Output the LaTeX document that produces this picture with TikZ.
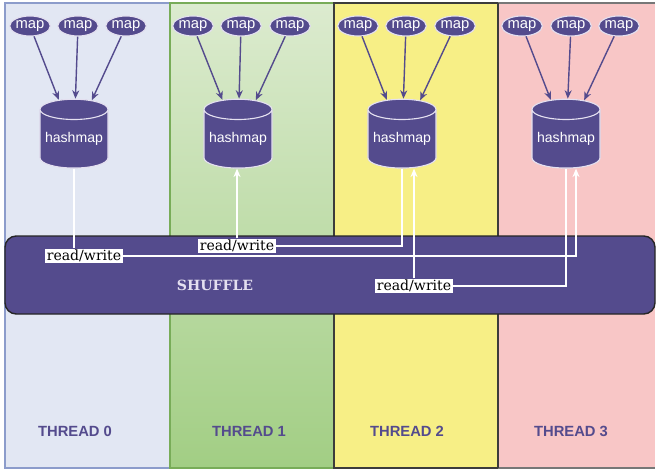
\documentclass[tikz,border=0pt]{standalone}
\usepackage{fontspec}
\setsansfont{Liberation Sans}
\newfontfamily\rwfont{DejaVu Serif}
\usetikzlibrary{positioning,shapes.geometric,arrows.meta}

\definecolor{shpurple}{HTML}{544B8D}
\definecolor{rimwhite}{HTML}{E4E0F0}
\definecolor{colzero}{HTML}{E2E7F3}
\definecolor{colzeroedge}{HTML}{8C9CCB}
\definecolor{coloneTop}{HTML}{DCEBCF}
\definecolor{coloneBot}{HTML}{A2CE84}
\definecolor{coloneedge}{HTML}{78AC58}
\definecolor{coltwo}{HTML}{F7EF86}
\definecolor{colthree}{HTML}{F8C6C6}
\definecolor{coledge}{HTML}{3C3C3C}

\begin{document}
\begin{tikzpicture}[x=0.025cm,y=-0.025cm,
    mapnode/.style={ellipse, fill=shpurple, draw=rimwhite, line width=0.8pt,
      text=white, minimum width=1cm, minimum height=0.5cm, inner sep=0pt,
      font=\sffamily\fontsize{10.5}{12}\selectfont},
    hashnode/.style={cylinder, shape border rotate=90, aspect=0.35,
      fill=shpurple, draw=rimwhite, line width=0.8pt, text=white,
      minimum width=1.7cm, minimum height=1.72cm, inner sep=0pt,
      font=\sffamily\fontsize{10}{12}\selectfont},
    rwnode/.style={fill=white, inner sep=1pt, text=black,
      font=\rwfont\fontsize{10}{12}\selectfont},
    threadlabel/.style={text=shpurple, font=\sffamily\bfseries\fontsize{10.5}{12}\selectfont},
    maparrow/.style={draw=shpurple, line width=1pt, -{Stealth[length=6pt,width=5pt]}},
    wline/.style={draw=white, line width=1pt},
    warrow/.style={wline, -{Stealth[length=6pt,width=5pt]}}]

  \useasboundingbox (0,0) rectangle (656,472);

  % thread columns
  \fill[colzero] (5,3) rectangle (170,468);
  \draw[colzeroedge, line width=0.8pt] (5,3) rectangle (170,468);
  \shade[top color=coloneTop, bottom color=coloneBot] (170,3) rectangle (334,468);
  \draw[coloneedge, line width=0.8pt] (170,3) rectangle (334,468);
  \fill[coltwo] (334,3) rectangle (498,468);
  \draw[coledge, line width=0.8pt] (334,3) rectangle (498,468);
  \fill[colthree] (498,3) rectangle (655,468);
  \draw[coledge!70, line width=0.8pt] (498,3) -- (655,3) (498,468) -- (655,468);
  \draw[coledge, line width=0.8pt] (498,3) -- (498,468);

  % map nodes
  \node[mapnode] (m00) at (30,26) {map};
  \node[mapnode] (m01) at (78,26) {map};
  \node[mapnode] (m02) at (126,26) {map};
  \node[mapnode] (m10) at (193,26) {map};
  \node[mapnode] (m11) at (241,26) {map};
  \node[mapnode] (m12) at (290,26) {map};
  \node[mapnode] (m20) at (358,26) {map};
  \node[mapnode] (m21) at (406,26) {map};
  \node[mapnode] (m22) at (455,26) {map};
  \node[mapnode] (m30) at (522,26) {map};
  \node[mapnode] (m31) at (571,26) {map};
  \node[mapnode] (m32) at (619,26) {map};

  % hashmaps
  \node[hashnode] (h0) at (74,139) {hashmap};
  \node[hashnode] (h1) at (238,139) {hashmap};
  \node[hashnode] (h2) at (402,139) {hashmap};
  \node[hashnode] (h3) at (566,139) {hashmap};

  \draw[maparrow] (m00) -- (h0);
  \draw[maparrow] (m01) -- (h0);
  \draw[maparrow] (m02) -- (h0);
  \draw[maparrow] (m10) -- (h1);
  \draw[maparrow] (m11) -- (h1);
  \draw[maparrow] (m12) -- (h1);
  \draw[maparrow] (m20) -- (h2);
  \draw[maparrow] (m21) -- (h2);
  \draw[maparrow] (m22) -- (h2);
  \draw[maparrow] (m30) -- (h3);
  \draw[maparrow] (m31) -- (h3);
  \draw[maparrow] (m32) -- (h3);

  % shuffle band
  \draw[fill=shpurple, draw=black!85, line width=1pt, rounded corners=8pt]
    (5,236) rectangle (655,314);
  \node[text=rimwhite, font=\rwfont\bfseries\fontsize{10}{12}\selectfont] (shuf) at (215,285) {SHUFFLE};

  \node[rwnode] (rw0) at (84,256) {read/write};
  \node[rwnode] (rw1) at (237,246) {read/write};
  \node[rwnode] (rw2) at (414,286) {read/write};

  \draw[wline] (h0.south) -- (h0.south |- rw0.north);
  \draw[warrow] (rw0.east) -| ([xshift=0.25cm]h3.south);
  \draw[wline] (h2.south) |- (rw1.east);
  \draw[warrow] (rw1.north) -- (rw1.north |- h1.south);
  \draw[wline] (h3.south) |- (rw2.east);
  \draw[warrow] (rw2.north) -- (rw2.north |- h2.south);

  % thread labels
  \node[threadlabel] (t0) at (75,431) {THREAD 0};
  \node[threadlabel] (t1) at (249,431) {THREAD 1};
  \node[threadlabel] (t2) at (407,431) {THREAD 2};
  \node[threadlabel] (t3) at (571,431) {THREAD 3};
\end{tikzpicture}
\end{document}
